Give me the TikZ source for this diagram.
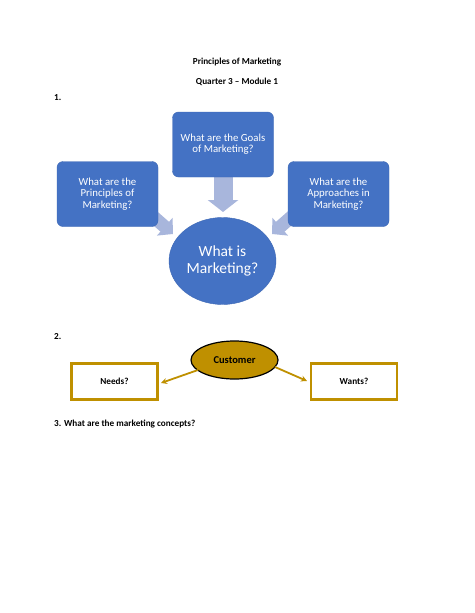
\documentclass[tikz,border=0pt]{standalone}
\usepackage{fontspec}
\setmainfont{Carlito}
\usetikzlibrary{arrows.meta,shapes.geometric}
\definecolor{mblue}{HTML}{4472C4}
\definecolor{mblueedge}{HTML}{3F69B5}
\definecolor{marrow}{RGB}{168,182,220}
\definecolor{mgold}{HTML}{BF9000}
\begin{document}
\begin{tikzpicture}[x=1pt,y=-1pt,
  plain/.style={inner sep=0pt,font=\fontsize{9.2}{11}\selectfont\bfseries},
  qbox/.style={draw=mblueedge,fill=mblue,rounded corners=6pt,minimum width=101pt,minimum height=65pt,
    text=white,align=center,inner sep=2pt,font=\fontsize{10.8}{11.2}\selectfont},
  bigarrow/.style={line width=19pt,marrow,-{Triangle[width=30pt,length=12pt]}},
  smallarrow/.style={line width=13pt,marrow,-{Triangle[width=23pt,length=11pt]}},
  goldbox/.style={draw=mgold,line width=2.4pt,fill=white,minimum width=86pt,minimum height=36pt,
    font=\fontsize{9.2}{11}\selectfont\bfseries},
  goldarrow/.style={draw=mgold,line width=1.8pt,-{Stealth[length=6pt,width=6pt]}}]
\useasboundingbox (0,0) rectangle (474,613);
\fill[white] (0,0) rectangle (474,613);

% headings
\node[plain] (title) at (237,62) {Principles of Marketing};
\node[plain] (quarter) at (237,82) {Quarter 3 – Module 1};
\node[plain,anchor=west] (one) at (54,98) {1.};

% block arrows (behind the boxes)
\coordinate (lstart) at (148,212);
\coordinate (ltip) at (173,234);
\coordinate (rstart) at (297,212);
\coordinate (rtip) at (272,234);
\coordinate (dstart) at (223,170);
\coordinate (dtip) at (223,212);
\draw[bigarrow] (dstart) -- (dtip);
\draw[smallarrow] (lstart) -- (ltip);
\draw[smallarrow] (rstart) -- (rtip);

% question boxes
\node[qbox] (goals) at (223,144.5) {What are the Goals\\of Marketing?};
\node[qbox] (principles) at (107.5,194) {What are the\\Principles of\\Marketing?};
\node[qbox] (approaches) at (338.5,194) {What are the\\Approaches in\\Marketing?};
\node[ellipse,fill=mblue,draw=mblueedge,minimum width=107pt,minimum height=87pt,inner sep=0pt,
  text=white,align=center,font=\fontsize{15.5}{16.5}\selectfont] (what) at (222.5,261) {What is\\Marketing?};

% part 2
\node[plain,anchor=west] (two) at (54,337) {2.};
\node[ellipse,fill=mgold,draw=black,line width=1.2pt,minimum width=87pt,minimum height=38pt,inner sep=0pt,
  font=\fontsize{10.5}{12}\selectfont\bfseries] (customer) at (234.5,360) {Customer};
\node[goldbox] (needs) at (114.5,381.5) {Needs?};
\node[goldbox] (wants) at (354,381.5) {Wants?};
\coordinate (nstart) at (198,370);
\coordinate (nend) at (161,383);
\coordinate (wstart) at (275,367);
\coordinate (wend) at (307,381);
\draw[goldarrow] (nstart) -- (nend);
\draw[goldarrow] (wstart) -- (wend);

% part 3
\node[plain,anchor=west] (three) at (54,424) {3. What are the marketing concepts?};
\end{tikzpicture}
\end{document}
